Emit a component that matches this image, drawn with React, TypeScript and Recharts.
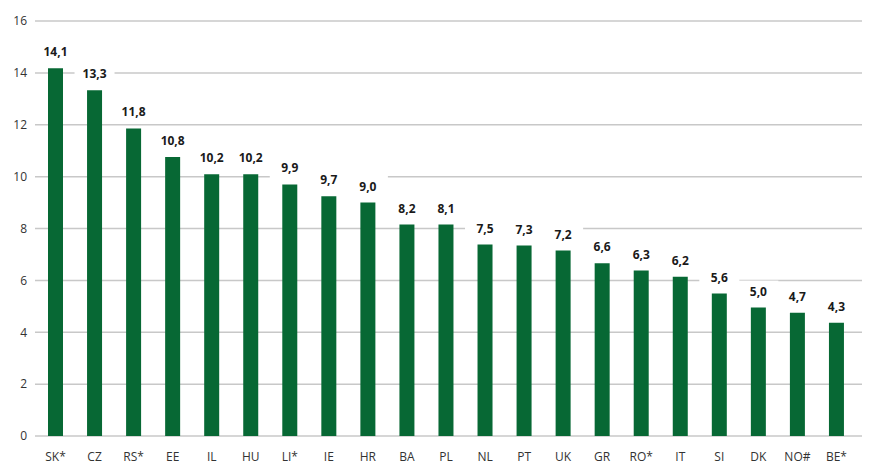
import { Bar, BarChart, CartesianGrid, LabelList, XAxis, YAxis } from "recharts";

const countries = [
  "SK*", "CZ", "RS*", "EE", "IL", "HU", "LI*", "IE", "HR", "BA", "PL",
  "NL", "PT", "UK", "GR", "RO*", "IT", "SI", "DK", "NO#", "BE*",
];

// bar heights as drawn in the picture
const values = [
  14.18, 13.33, 11.86, 10.76, 10.09, 10.09, 9.7, 9.24, 9.0, 8.15, 8.15,
  7.38, 7.34, 7.15, 6.66, 6.38, 6.14, 5.49, 4.95, 4.75, 4.37,
];

// printed labels above the bars
const labels = [
  "14,1", "13,3", "11,8", "10,8", "10,2", "10,2", "9,9", "9,7", "9,0", "8,2", "8,1",
  "7,5", "7,3", "7,2", "6,6", "6,3", "6,2", "5,6", "5,0", "4,7", "4,3",
];

const yTicks = [0, 2, 4, 6, 8, 10, 12, 14, 16];

const data = countries.map((name, i) => ({ name, value: values[i], label: labels[i] }));

const FONT = "'Open Sans', sans-serif";

function ValueLabel(props: any) {
  const { x, y, width, index } = props;
  const cx = x + width / 2;
  return (
    <g>
      <rect x={cx - 20} y={y - 27} width={40} height={22} fill="#fff" />
      <text
        x={cx}
        y={y - 12}
        textAnchor="middle"
        fontFamily={FONT}
        fontSize={12}
        fontWeight={700}
        fill="#1a1a1a"
      >
        {labels[index]}
      </text>
    </g>
  );
}

export default function App() {
  return (
    <div style={{ position: "absolute", left: 0, top: 0 }}>
      <BarChart
        width={882}
        height={475}
        data={data}
        barSize={15}
        margin={{ top: 21, right: 20, bottom: 9, left: 0 }}
      >
        <CartesianGrid vertical={false} stroke="#c8c8c8" strokeWidth={1.5} />
        <XAxis
          dataKey="name"
          axisLine={false}
          tickLine={false}
          tickMargin={10}
          interval={0}
          padding={{ left: 1, right: 6 }}
          tick={{ fontFamily: FONT, fontSize: 12, fill: "#333" }}
        />
        <YAxis
          width={35}
          domain={[0, 16]}
          ticks={yTicks}
          axisLine={false}
          tickLine={false}
          tick={{ fontFamily: FONT, fontSize: 12, fill: "#333" }}
        />
        <Bar dataKey="value" fill="#076834" isAnimationActive={false}>
          <LabelList dataKey="value" content={ValueLabel} />
        </Bar>
      </BarChart>
    </div>
  );
}
